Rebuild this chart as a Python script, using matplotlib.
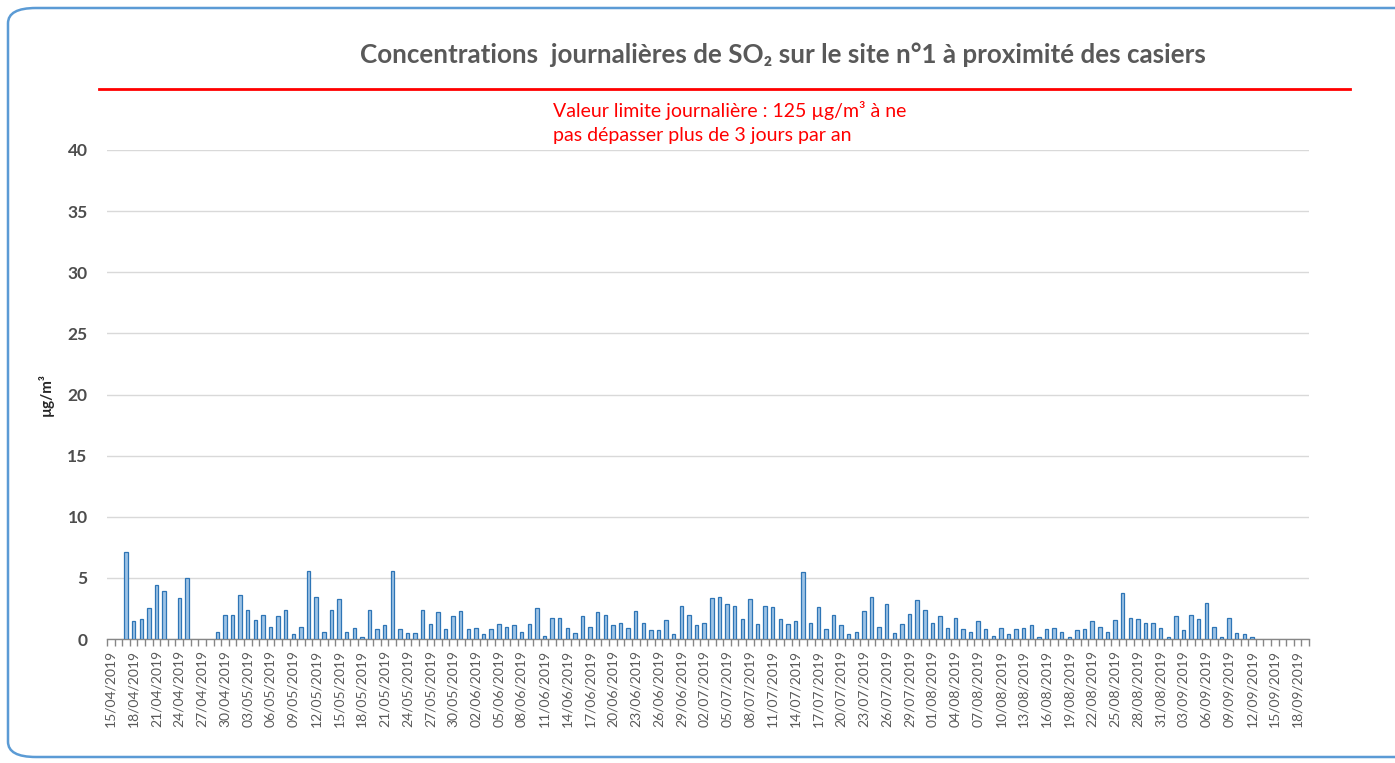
import numpy as np
import pandas as pd
import matplotlib
matplotlib.use('Agg')
import matplotlib.pyplot as plt
from matplotlib.patches import FancyBboxPatch
from matplotlib.lines import Line2D

plt.rcParams['font.family'] = ['Lato', 'DejaVu Sans']

# daily categories 15/04/2019 -> 19/09/2019
dates = pd.date_range('2019-04-15', '2019-09-19', freq='D')
date_labels = [d.strftime('%d/%m/%Y') for d in dates]

nan = np.nan
so2_apr = [nan, nan, 7.1, 1.45, 1.67, 2.53, 4.44, 3.9, nan, 3.36, 4.97, nan, nan, nan, 0.59, 1.96]
so2_may = [1.96, 3.58, 2.39, 1.56, 1.96, 1.02, 1.88, 2.39, 0.38, 1.02, 5.6, 3.47, 0.59, 2.39, 3.25, 0.59,
           0.89, 0.16, 2.39, 0.81, 1.13, 5.6, 0.81, 0.46, 0.46, 2.39, 1.21, 2.18, 0.81, 1.85, 2.28]
so2_jun = [0.81, 0.91, 0.38, 0.81, 1.21, 1.02, 1.13, 0.59, 1.21, 2.5, 0.24, 1.75, 1.75, 0.91, 0.48,
           1.85, 1.02, 2.2, 1.96, 1.13, 1.34, 0.91, 2.31, 1.34, 0.7, 0.7, 1.56, 0.38, 2.72, 1.96]
so2_jul = [1.13, 1.34, 3.36, 3.47, 2.85, 2.72, 1.67, 3.25, 1.21, 2.72, 2.61, 1.67, 1.21, 1.45, 5.51, 1.34,
           2.61, 0.81, 1.96, 1.13, 0.38, 0.59, 2.31, 3.47, 1.02, 2.85, 0.48, 1.21, 2.07, 3.15, 2.39]
so2_aug = [1.34, 1.85, 0.91, 1.75, 0.81, 0.59, 1.45, 0.81, 0.27, 0.91, 0.38, 0.81, 0.91, 1.13, 0.16, 0.81,
           0.91, 0.59, 0.16, 0.7, 0.81, 1.45, 1.02, 0.59, 1.56, 3.79, 1.75, 1.67, 1.34, 1.34, 0.91]
so2_sep = [0.16, 1.88, 0.7, 1.96, 1.67, 2.93, 1.02, 0.19, 1.75, 0.48, 0.38, 0.19, nan, nan, nan, nan, nan, nan, nan]
so2 = np.array(so2_apr + so2_may + so2_jun + so2_jul + so2_aug + so2_sep)

y_ticks = [0, 5, 10, 15, 20, 25, 30, 35, 40]

grey = '#595959'
W, H = 1395, 763
fig = plt.figure(figsize=(W / 100, H / 100), dpi=100)

# rounded frame around the chart
frame = FancyBboxPatch((8 / W, 6 / H), 1.2, (H - 14) / H,
                       boxstyle='round,pad=0,rounding_size=0.02',
                       transform=fig.transFigure, facecolor='none',
                       edgecolor='#5B9BD5', linewidth=1.8, zorder=0)
fig.patches.append(frame)

ax = fig.add_axes([107 / W, 1 - 639 / H, (1309 - 107) / W, (639 - 150) / H])
ax.set_zorder(2)
ax.patch.set_alpha(0)

x = np.arange(len(so2))
ax.bar(x, so2, width=0.45, color='#9DC3E6', edgecolor='#2E75B6', linewidth=0.9, zorder=3)

ax.set_xlim(-0.5, len(so2) - 0.5)
ax.set_ylim(0, 40)
ax.set_yticks(y_ticks)
ax.set_yticklabels([str(v) for v in y_ticks], fontsize=12.5, fontweight='bold', color='#4d4d4d')
ax.tick_params(axis='y', length=0, pad=14)
ax.grid(axis='y', color='#D9D9D9', linewidth=1, zorder=0)

ax.set_xticks(x[::3])
ax.set_xticklabels(date_labels[::3], rotation=90, fontsize=10, color=grey)
ax.set_xticks(np.arange(len(so2) + 1) - 0.5, minor=True)
ax.tick_params(axis='x', which='major', length=0, pad=8)
ax.tick_params(axis='x', which='minor', length=5, color='#868686', width=1)

for s in ['top', 'right', 'left']:
    ax.spines[s].set_visible(False)
ax.spines['bottom'].set_color('#868686')
ax.spines['bottom'].set_linewidth(1)

ax.set_ylabel('µg/m³', fontsize=11, fontweight='bold', color='#262626', labelpad=10)

fig.text(783 / W, 1 - 55 / H,
         'Concentrations  journalières de SO₂ sur le site n°1 à proximité des casiers',
         ha='center', va='center', fontsize=18.7, fontweight='bold', color=grey)

# daily limit value marker (125 µg/m³, off scale)
fig.lines.append(Line2D([99 / W, 1350 / W], [1 - 89 / H, 1 - 89 / H],
                        transform=fig.transFigure, color='#FF0000', linewidth=2))
fig.text(553 / W, 1 - 110 / H, 'Valeur limite journalière : 125 µg/m³ à ne',
         ha='left', va='center', fontsize=14, color='#FF0000')
fig.text(553 / W, 1 - 136 / H, 'pas dépasser plus de 3 jours par an',
         ha='left', va='center', fontsize=14, color='#FF0000')

fig.savefig('out.png', dpi=100)
